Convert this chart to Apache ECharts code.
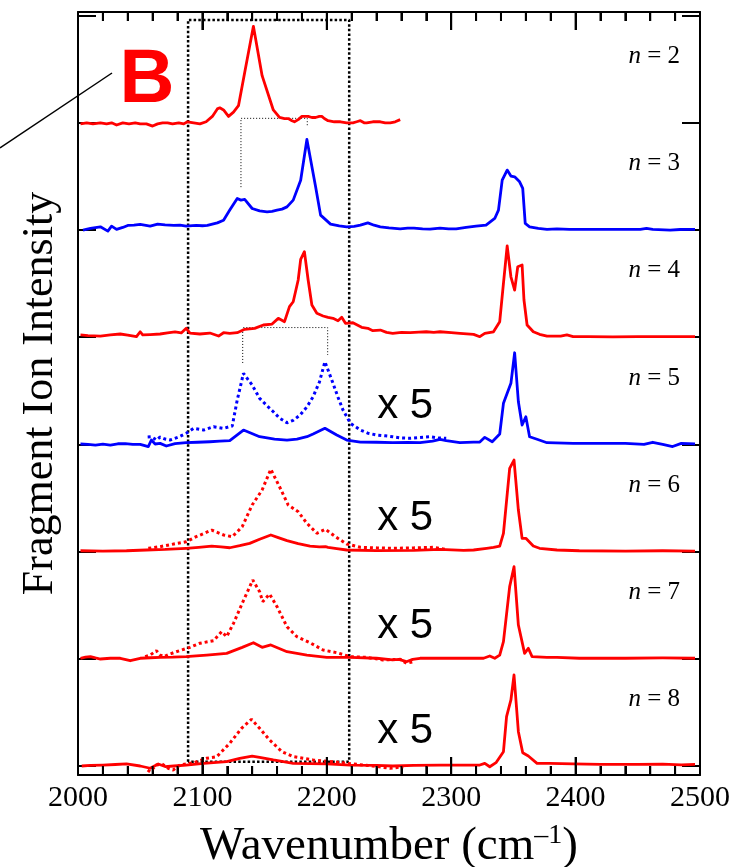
<!DOCTYPE html>
<html><head><meta charset="utf-8">
<script src="https://cdn.jsdelivr.net/npm/echarts@6.0.0/dist/echarts.min.js"></script>
<style>html,body{margin:0;padding:0;background:#fff}#c{width:733px;height:867px}</style>
</head><body><div id="c"></div>
<script>
// ---------------- DATA ----------------
const xTickValues = [2000, 2100, 2200, 2300, 2400, 2500];
const panelNames = ['2', '3', '4', '5', '6', '7', '8'];
const panelOffsets = [600, 500, 400, 300, 200, 100, 0];
const scaledNote = 'x 5';

const n2 = [[2002,-1],[2007,0],[2012,-1],[2018,0],[2023,-1],[2027,0],[2031,-2],[2036,0],[2041,-1],[2046,0],[2050,-1],[2055,-1],[2060,-3],[2064,-1],[2068,0],[2072,0],[2076,-1],[2081,0],[2085,-1],[2088,1],[2093,0],[2098,-1],[2103,1],[2108,6],[2112,13],[2114,14],[2117,12],[2121,6],[2125,10],[2129,16],[2134,47],[2141,90],[2148,44],[2149,43],[2157,12],[2162,5],[2166,4],[2169,4],[2172,2],[2174,1],[2177,3],[2180,6],[2183,6],[2185,6],[2188,5],[2191,5],[2194,6],[2196,6],[2198,4],[2201,2],[2206,1],[2211,1],[2216,0],[2221,0],[2224,1],[2227,2],[2230,0],[2232,0],[2237,1],[2243,1],[2247,0],[2251,0],[2255,1],[2259,3]];

const n3 = [[2004,0],[2010,1.5],[2018,3],[2024,-1],[2027,3.6],[2031,0.6],[2036,2.4],[2040,4.3],[2045,4.5],[2050,5.2],[2058,3.6],[2064,5.5],[2070,4.8],[2077,4.3],[2082,4.6],[2087,3.6],[2092,4.2],[2095,4.3],[2100,4.0],[2104,4.3],[2108,5.5],[2112,6.7],[2117,9.2],[2122,18.6],[2128,29.5],[2131,27.9],[2134,28.5],[2140,20.1],[2146,17.9],[2152,17.0],[2156,17.5],[2160,18.6],[2164,19.5],[2168,21.6],[2173,27.9],[2179,46.5],[2184,84.5],[2191,40.3],[2195,13.9],[2203,5.5],[2210,3.8],[2216,3.0],[2222,3.5],[2227,4.6],[2233,6.7],[2238,4.5],[2243,3.0],[2250,2.0],[2259,1.1],[2265,1.8],[2270,1.8],[2277,1.0],[2283,0.8],[2291,1.8],[2298,1.0],[2304,1.1],[2312,2.4],[2320,3.6],[2328,4.6],[2335,10.8],[2338,18.6],[2341,46.5],[2345,55.9],[2348,50.3],[2351,49.6],[2355,45.0],[2357.5,38.8],[2359.5,6.2],[2363,3.0],[2370,1.5],[2377,0.6],[2385,1.1],[2395,0.6],[2410,0.6],[2430,0.6],[2452,0.6],[2457,1.5],[2462,0.6],[2476,-0.1],[2484,0.5],[2496,0.6]];

const n4 = [[2002,2.1],[2008,1.5],[2018,1.1],[2026,2.2],[2034,3.0],[2040,2.0],[2047,0.5],[2050,5.1],[2052,2.1],[2058,2.5],[2066,3.0],[2072,4.0],[2078,4.9],[2083,4.0],[2087,8.3],[2090,3.9],[2098,3.0],[2106,3.9],[2113,1.1],[2117,4.2],[2122,3.5],[2128,4.2],[2134,7.4],[2142,8.3],[2149,11.4],[2156,12.3],[2161,17.6],[2166,14.5],[2170,28.5],[2173,33.1],[2177,53.4],[2179,72.7],[2182,79.8],[2185,53.4],[2188,30],[2192,22.3],[2197,19.8],[2201,18.5],[2205,17.6],[2209,15.4],[2212,18.6],[2215,13],[2221,13.5],[2228,9.2],[2233,8.3],[2237,6.1],[2243,6.7],[2248,4.5],[2253,3.6],[2260,4.5],[2267,4.2],[2274,4.8],[2280,5.1],[2286,4.5],[2291,5.1],[2300,4.2],[2307,3.6],[2318,2.7],[2323,0.5],[2327,3.6],[2334,5.1],[2339,14.5],[2342,50.3],[2345,85.1],[2348,56.4],[2351,44],[2353.5,65.8],[2357,67.4],[2358.5,34.7],[2361,11.4],[2366,5.1],[2371,2.7],[2377,1.1],[2388,1.1],[2393,2.1],[2398,0.5],[2410,0.5],[2430,0.3],[2450,0.5],[2470,0.5],[2496,0.5]];

const n5 = [[2002,0.4],[2008,0.0],[2014,-0.6],[2020,0.2],[2026,-0.6],[2032,0.6],[2038,0.8],[2044,0.0],[2050,0.1],[2056.5,-2.1],[2059,4.1],[2062,0.4],[2066,1.0],[2071,-1.5],[2078,0.8],[2087,1.6],[2096,2.0],[2106,2.5],[2114,3.0],[2122,3.5],[2133,13.4],[2146,7.2],[2158,5.0],[2168,4.1],[2176,5.0],[2184,7.2],[2189,9.7],[2198.5,15],[2208,8.8],[2216,4.1],[2227,2.2],[2240,2.0],[2253,1.6],[2265,1.8],[2275,1.6],[2285,3.0],[2291,4.8],[2296,3.5],[2307,1.6],[2318,2.2],[2323,2.2],[2327,6.6],[2333,2.5],[2339,9.7],[2342,38.3],[2348,57],[2351,85.5],[2354,39.8],[2357,18.1],[2360,25.8],[2363,7.2],[2369,4.8],[2377,1.6],[2398,1.0],[2420,1.0],[2440,1.0],[2455,0.0],[2462,2.0],[2470,0.0],[2478,-2.0],[2485,1.0],[2496,0.5]];

const n5x5 = [[2056,7],[2059,7.2],[2063,4.1],[2066,6.9],[2070,5.0],[2074,4.1],[2081,7.0],[2087,10.4],[2093,15],[2101,13.4],[2109,16.5],[2117,15],[2124,17.2],[2128,41.4],[2133,66.3],[2140,55.4],[2146,43],[2152,36],[2157,30.5],[2162,24.5],[2168,20.2],[2173,22.5],[2178.5,27.4],[2184,35],[2189,44.5],[2194,58],[2198.5,77.1],[2205,57],[2209,44],[2213,32.1],[2219,19.7],[2227,13.4],[2233,10.5],[2240,8.8],[2247,8.0],[2253,7.2],[2260,6.0],[2267,5.7],[2275,6.5],[2283,7.2],[2290,6.0],[2296,5.7]];

const n6 = [[2002,0.8],[2020,0.5],[2039,0.8],[2055,1.5],[2070,2.0],[2087,3.1],[2097,4.0],[2107.5,5.2],[2115,4.5],[2122,3.6],[2130,5.5],[2138,7.7],[2146,11.5],[2155,15.5],[2161,13],[2168,10.2],[2177,7.5],[2186.5,5.2],[2194,4.4],[2199,4.6],[2201,4.0],[2208,2.8],[2216,1.5],[2240,1.0],[2270,1.2],[2291,2.1],[2310,1.2],[2318,1.5],[2328.5,3.1],[2334,4.0],[2339,5.2],[2342,17.1],[2347,77.7],[2350.5,85.4],[2354,38.8],[2357,12.4],[2360,12.4],[2366,5.2],[2371,3.1],[2385,1.5],[2403,0.8],[2440,0.5],[2470,0.8],[2496,0.5]];

const n6x5 = [[2056.5,3.1],[2066,4.6],[2077,7.1],[2087,9.2],[2095,13.9],[2107.5,20.1],[2117,15.5],[2124,13.9],[2132,23.2],[2140,43.5],[2148,57.5],[2155,76.8],[2162,60.5],[2169,43.5],[2177,37.2],[2184,26.4],[2192,17.1],[2199,20.8],[2207,13.9],[2216,7.1],[2227,4.0],[2240,3.5],[2253,3.1],[2270,3.5],[2286,4.0],[2296,2.1]];

const n7 = [[2002,0.5],[2006,1.5],[2010,2.0],[2014,0.8],[2018,-0.2],[2026,0.5],[2034,0.5],[2042,-1.8],[2050,0.5],[2058,1.0],[2066,1.4],[2076,1.5],[2087,2.0],[2095,2.8],[2103.5,3.5],[2119.5,5.1],[2132,10.7],[2141,15],[2148,10.7],[2155,12.9],[2168,6.6],[2184,3.5],[2200,1.4],[2219,1.4],[2240,0.5],[2253,-1.1],[2258,-0.5],[2264,-2.7],[2269,-0.5],[2275,0.5],[2291,0.5],[2310,0.5],[2326,0.5],[2331,2.6],[2335,0.5],[2339,3.5],[2342,16],[2347,67.3],[2350.5,85.9],[2354,31.5],[2359,5.1],[2362,9.8],[2365,2.0],[2377,1.4],[2385,1.4],[2403,0.5],[2440,0.5],[2470,0.8],[2496,0.5]];

const n7x5 = [[2054,2.0],[2058,3.5],[2063,7.6],[2066,3.5],[2069,2.0],[2074,4.5],[2079,6.6],[2090,10.7],[2098,14.5],[2109,16.9],[2115.5,25.3],[2119.5,20.6],[2125,33.1],[2132,51.8],[2140.5,73.5],[2146,62.6],[2148.5,53.3],[2154,60.4],[2160,48.6],[2168,29.9],[2176,20.6],[2186.5,15],[2197,8.2],[2208,5.7],[2219,2.0],[2232,1.4],[2245,-1.1],[2259,-0.5],[2264,-4.2],[2269.5,-2.7]];

const n8 = [[2003,0],[2010,0.5],[2020,0.9],[2030,1.4],[2039,1.9],[2050,0],[2058,-2.1],[2064.5,1.9],[2070,-0.5],[2077,0],[2087,0.9],[2101,2.5],[2119.5,4.0],[2130,7.2],[2140,9.3],[2146,8.1],[2157,5.6],[2173,2.5],[2200,1.9],[2219,0.9],[2240,0.5],[2253,0],[2270,0.5],[2291,0.9],[2323,0.9],[2327,2.5],[2331,-0.7],[2336,3.1],[2342,13.3],[2344.5,46],[2348,61.6],[2350.5,84.9],[2354,32],[2357.5,12.4],[2362,9.3],[2369,2.5],[2379,2.5],[2398,1.9],[2420,1.5],[2450,1.5],[2470,1.8],[2485,1.0],[2496,1.5]];

const n8x5 = [[2056,-3.7],[2058,-5.3],[2063,0.9],[2067.5,1.9],[2072.5,-2.1],[2076.5,-3.7],[2082,0.9],[2093,3.1],[2103.5,7.2],[2111.5,8.7],[2122,21.2],[2131.5,35.2],[2139.5,43.6],[2146,35.2],[2154,24.3],[2164,13.3],[2173,8.7],[2189,5.6],[2205,4.0],[2221,1.9],[2237,0],[2251,-2.1],[2261.5,-0.7]];

// annotation geometry in data units (wavenumber, stacked intensity)
const boxX = [2088.5, 2218];
const boxY = [4, 696];
const bracket1 = [[2131, 540], [2131, 604.2], [2184.3, 604.2], [2184.3, 597]];
const bracket2 = [[2132.4, 376], [2132.4, 409], [2200.7, 409], [2200.7, 383.4]];

// ---------------- LAYOUT / STYLE ----------------
const RED = '#ff0000', BLUE = '#0000ff';
const solidSets = [n2, n3, n4, n5, n6, n7, n8];
const solidColors = [RED, BLUE, RED, BLUE, RED, RED, RED];
const scaledSets = [null, null, null, n5x5, n6x5, n7x5, n8x5];
const nLabelX = 2484, nLabelRise = 62;
const x5LabelX = 2263, x5Rise = [null, null, null, 35.6, 31, 29.8, 32];
const yMin = -8.4, yMax = 703.4;
const majorTickLen = 16.8, minorTickLen = 8.4;   // tick lengths in y-axis units (~18px / ~9px)
const serif = '"Liberation Serif", "Times New Roman", serif';
const sans = '"Liberation Sans", Arial, sans-serif';
const xMin = xTickValues[0], xMax = xTickValues[xTickValues.length - 1];
const minorPerMajor = 5;

const stack = (arr, off) => arr.map(p => [p[0], p[1] + off]);

// tick marks along top and bottom frame (major at each label, 4 minor between)
const xTickMarks = [];
xTickValues.forEach((v, i) => {
  xTickMarks.push([v, majorTickLen]);
  if (i < xTickValues.length - 1) {
    const step = (xTickValues[i + 1] - v) / minorPerMajor;
    for (let k = 1; k < minorPerMajor; k++) xTickMarks.push([v + k * step, minorTickLen]);
  }
});

const series = [];
series.push({
  type: 'line', silent: true, showSymbol: false, animation: false, z: 1,
  data: [[boxX[0], boxY[0]], [boxX[0], boxY[1]], [boxX[1], boxY[1]], [boxX[1], boxY[0]], [boxX[0], boxY[0]]],
  lineStyle: { color: '#000', width: 2.5, type: [2.5, 2.2], cap: 'butt' }
});
[bracket1, bracket2].forEach(b => series.push({
  type: 'line', silent: true, showSymbol: false, animation: false, z: 1,
  data: b, lineStyle: { color: '#000', width: 1, type: [1, 2], cap: 'butt' }
}));
// frame ticks as short line segments through the chart's own scales
xTickMarks.forEach(t => {
  series.push({
    type: 'line', silent: true, showSymbol: false, animation: false, z: 5, clip: false,
    data: [[t[0], yMin], [t[0], yMin + t[1]]],
    lineStyle: { color: '#000', width: 2, cap: 'butt' }
  });
  series.push({
    type: 'line', silent: true, showSymbol: false, animation: false, z: 5, clip: false,
    data: [[t[0], yMax], [t[0], yMax - t[1]]],
    lineStyle: { color: '#000', width: 2, cap: 'butt' }
  });
});
solidSets.forEach((arr, i) => {
  series.push({
    type: 'line', silent: true, showSymbol: false, animation: false, z: 3,
    data: stack(arr, panelOffsets[i]),
    lineStyle: { color: solidColors[i], width: 2.8, join: 'round' }
  });
  if (scaledSets[i]) {
    series.push({
      type: 'line', silent: true, showSymbol: false, animation: false, z: 2,
      data: stack(scaledSets[i], panelOffsets[i]),
      lineStyle: { color: solidColors[i], width: 3, type: [3, 3], cap: 'butt' }
    });
  }
});
series.push({
  type: 'scatter', silent: true, animation: false, symbolSize: 1,
  itemStyle: { color: 'rgba(0,0,0,0)', opacity: 1 },
  data: panelNames.map((nm, i) => [nLabelX, panelOffsets[i] + nLabelRise, nm]),
  label: {
    show: true, position: 'inside', align: 'right', verticalAlign: 'middle',
    formatter: p => '{i|n} = ' + p.data[2],
    fontFamily: serif, fontSize: 25, color: '#000', opacity: 1,
    rich: { i: { fontFamily: serif, fontSize: 25, fontStyle: 'italic', color: '#000' } }
  }
});
series.push({
  type: 'scatter', silent: true, animation: false, symbolSize: 1,
  itemStyle: { color: 'rgba(0,0,0,0)', opacity: 1 },
  data: panelOffsets.map((o, i) => x5Rise[i] == null ? null : [x5LabelX, o + x5Rise[i]]).filter(Boolean),
  label: {
    show: true, position: 'inside', align: 'center', verticalAlign: 'middle',
    formatter: scaledNote, fontFamily: sans, fontSize: 42, color: '#000', opacity: 1
  }
});

const mkLine = () => ({ show: true, onZero: false, lineStyle: { color: '#000', width: 2 } });
const mkTick = (extra) => Object.assign({ show: true, inside: true, length: 18, lineStyle: { color: '#000', width: 2 } }, extra || {});
const mkMinor = () => ({ show: true, splitNumber: minorPerMajor, length: 9, lineStyle: { color: '#000', width: 2 } });
const yTicks = panelOffsets.concat([700]).sort((a, b) => a - b);

const option = {
  backgroundColor: '#fff',
  animation: false,
  grid: { left: 78, right: 33, top: 12, bottom: 92, outerBoundsMode: 'none' },
  xAxis: [{
    type: 'value', position: 'bottom', min: xMin, max: xMax, interval: 100,
    axisLine: mkLine(), splitLine: { show: false },
    axisTick: mkTick(), minorTick: mkMinor(),
    axisLabel: { show: true, margin: 8, fontFamily: serif, fontSize: 30, color: '#000', formatter: v => String(v) },
    name: 'Wavenumber (cm{sup|\u20131})', nameLocation: 'middle', nameGap: 47,
    nameTextStyle: { fontFamily: serif, fontSize: 47, color: '#000',
      rich: { sup: { fontFamily: serif, fontSize: 28, color: '#000', verticalAlign: 'top', padding: [0, 0, 22, 0] } } }
  }, {
    type: 'value', position: 'top', min: xMin, max: xMax, interval: 100,
    axisLine: mkLine(), splitLine: { show: false },
    axisTick: mkTick(), minorTick: mkMinor(),
    axisLabel: { show: false }
  }],
  yAxis: [{
    type: 'value', position: 'left', min: yMin, max: yMax,
    axisLine: mkLine(), splitLine: { show: false },
    axisTick: mkTick({ customValues: yTicks.slice() }),
    axisLabel: { show: false },
    name: 'Fragment Ion Intensity', nameLocation: 'middle', nameGap: 16,
    nameTextStyle: { fontFamily: serif, fontSize: 44, color: '#000' }
  }, {
    type: 'value', position: 'right', min: yMin, max: yMax,
    axisLine: mkLine(), splitLine: { show: false },
    axisTick: mkTick({ customValues: yTicks.slice() }),
    axisLabel: { show: false }
  }],
  graphic: [
    { type: 'line', shape: { x1: 0, y1: 148, x2: 112, y2: 73 }, style: { stroke: '#000', lineWidth: 1.5 }, z: 10 },
    { type: 'text', x: 147, y: 81, z: 10,
      style: { text: 'B', font: 'bold 76px "Liberation Sans", Arial, sans-serif', fill: RED, align: 'center', verticalAlign: 'middle' } }
  ],
  series
};

const chart = echarts.init(document.getElementById('c'), null, { renderer: 'canvas' });
chart.setOption(option);
</script>
</body></html>
